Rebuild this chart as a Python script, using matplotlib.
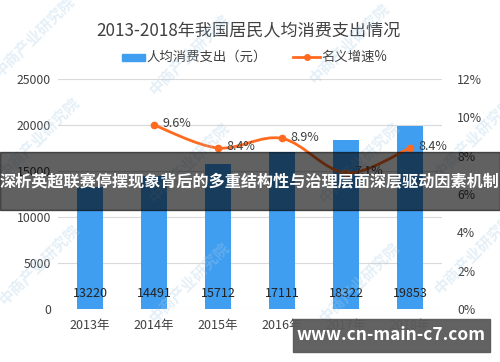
import matplotlib

matplotlib.use("Agg")

import matplotlib.pyplot as plt
from matplotlib.path import Path
from matplotlib.patches import PathPatch, Rectangle

plt.rcParams["font.family"] = ["Noto Sans CJK SC", "DejaVu Sans"]

years = ["2013年", "2014年", "2015年", "2016年", "2017年", "2018年"]
spending = [13220, 14491, 15712, 17111, 18322, 19853]
growth_years = [1, 2, 3, 4, 5]
growth = [9.6, 8.4, 8.9, 7.1, 8.4]
growth_labels = ["9.6%", "8.4%", "8.9%", "7.1%", "8.4%"]
left_ticks = [0, 5000, 10000, 15000, 20000, 25000]
right_ticks = [0, 2, 4, 6, 8, 10, 12]

BAR_COLOR = "#409ef0"
LINE_COLOR = "#ff6a1f"
TEXT_COLOR = "#404040"

fig = plt.figure(figsize=(5, 3.62), dpi=100)
ax = fig.add_axes([0.116, 0.1464, 0.768, 0.6354])
ax2 = ax.twinx()

x = list(range(len(years)))
ax.bar(x, spending, width=0.41, color=BAR_COLOR, zorder=2)
ax.set_xlim(-0.5, len(years) - 0.5)
ax.set_ylim(0, 25000)
ax.set_yticks(left_ticks)
ax.set_yticklabels([str(t) for t in left_ticks])
ax.set_xticks(x)
ax.set_xticklabels(years)
ax.grid(axis="y", color="#d9d9d9", linewidth=0.8, zorder=0)
ax.tick_params(length=0, labelsize=8.8, colors=TEXT_COLOR, pad=5)
ax.tick_params(axis="x", labelsize=9, pad=7)
for s in ax.spines.values():
    s.set_visible(False)
for s in ax2.spines.values():
    s.set_visible(False)

for xi, v in zip(x, spending):
    ax.annotate(str(v), (xi, 0), textcoords="offset points", xytext=(0, 11.5),
                ha="center", va="center", fontsize=9, color="#222222", zorder=3)

# smooth line through the growth points (Catmull-Rom -> cubic bezier)
ax2.set_ylim(0, 12)
ax2.set_yticks(right_ticks)
ax2.set_yticklabels([f"{t}%" for t in right_ticks])
ax2.tick_params(length=0, labelsize=8.8, colors=TEXT_COLOR, pad=11)

pts = list(zip(growth_years, growth))
verts = [pts[0]]
codes = [Path.MOVETO]
for i in range(len(pts) - 1):
    p0 = pts[i - 1] if i > 0 else pts[i]
    p1, p2 = pts[i], pts[i + 1]
    p3 = pts[i + 2] if i + 2 < len(pts) else pts[i + 1]
    c1 = (p1[0] + (p2[0] - p0[0]) / 6, p1[1] + (p2[1] - p0[1]) / 6)
    c2 = (p2[0] - (p3[0] - p1[0]) / 6, p2[1] - (p3[1] - p1[1]) / 6)
    verts += [c1, c2, p2]
    codes += [Path.CURVE4] * 3
ax2.add_patch(PathPatch(Path(verts, codes), facecolor="none", edgecolor=LINE_COLOR,
                        linewidth=2, zorder=4))
ax2.plot(growth_years, growth, "o", color=LINE_COLOR, markersize=4.5, zorder=5)
for xi, v, lab in zip(growth_years, growth, growth_labels):
    ax2.annotate(lab, (xi, v), textcoords="offset points", xytext=(6, 1),
                 ha="left", va="center", fontsize=9, color=TEXT_COLOR, zorder=5)

fig.text(0.497, 0.917, "2013-2018年我国居民人均消费支出情况", ha="center", va="center",
         fontsize=12.3, color=TEXT_COLOR)

# legend
fig.patches.append(Rectangle((0.244, 0.832), 0.046, 0.02, transform=fig.transFigure,
                             color=BAR_COLOR))
fig.text(0.292, 0.842, "人均消费支出（元）", ha="left", va="center", fontsize=9.6,
         color=TEXT_COLOR)
fig.lines.append(plt.Line2D([0.586, 0.64], [0.842, 0.842], transform=fig.transFigure,
                            color=LINE_COLOR, linewidth=2))
fig.lines.append(plt.Line2D([0.613], [0.842], transform=fig.transFigure,
                            color=LINE_COLOR, marker="o", markersize=4))
fig.text(0.642, 0.842, "名义增速%", ha="left", va="center", fontsize=9.6, color=TEXT_COLOR)

# faint watermarks
for wx, wy in [(0.07, 0.9), (0.38, 0.85), (0.7, 0.88), (0.08, 0.62), (0.38, 0.55),
               (0.72, 0.55), (0.08, 0.27), (0.38, 0.22), (0.72, 0.22), (0.95, 0.62),
               (0.95, 0.3)]:
    fig.text(wx, wy, "中商产业研究院", rotation=45, ha="center", va="center",
             fontsize=11, color="#a8cce6", alpha=0.3, fontweight="bold", zorder=6)

# overlay banner
fig.patches.append(Rectangle((0, 0.42), 1, 0.16, transform=fig.transFigure,
                             color="black", alpha=0.62, zorder=10))
fig.text(0.5, 0.5, "深析英超联赛停摆现象背后的多重结构性与治理层面深层驱动因素机制",
         ha="center", va="center", fontsize=11.6, color="white", fontweight="bold",
         zorder=11)
fig.patches.append(Rectangle((0.586, 0.028), 0.394, 0.092, transform=fig.transFigure,
                             color="#5a5a5a", alpha=0.95, zorder=10))
fig.text(0.783, 0.074, "www.cn-main-c7.com", ha="center", va="center", fontsize=12.5,
         color="white", fontweight="bold", zorder=11)

fig.savefig("out.png", dpi=100)
